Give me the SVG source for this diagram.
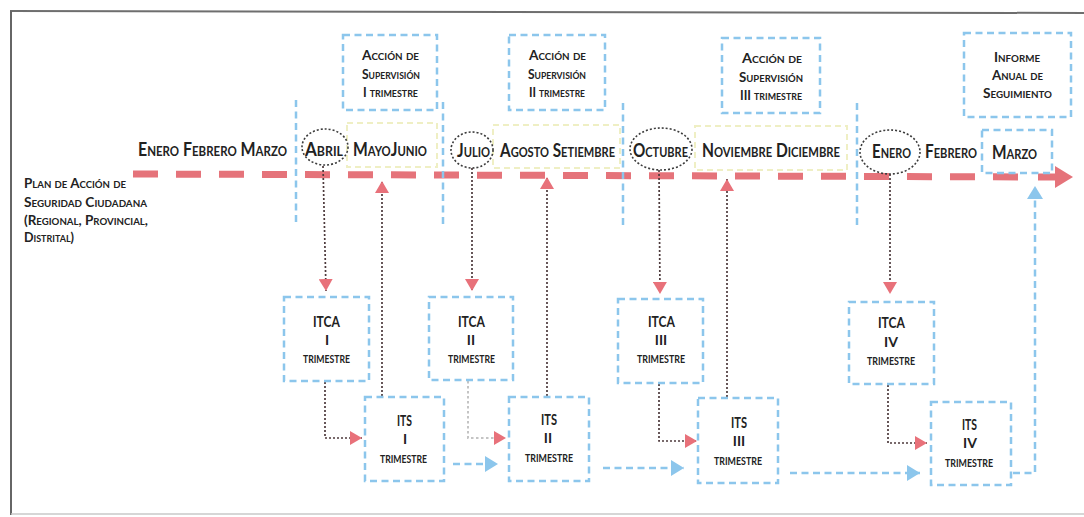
<svg xmlns="http://www.w3.org/2000/svg" width="1084" height="517" viewBox="0 0 1084 517">
<style>
.t{font-family:Lato,"Liberation Sans","DejaVu Sans",sans-serif;font-weight:bold;font-variant:small-caps;fill:#222}
.m{font-size:18px}
.s{font-size:14px}
.b{font-size:16px}
.r{font-size:14px}
.tr{font-size:16px}
.c{text-anchor:middle}
.bd{fill:#fff;stroke:#8cc6ec;stroke-width:2.5;stroke-dasharray:7 4.5}
.bl{fill:none;stroke:#8cc6ec;stroke-width:2.5;stroke-dasharray:7 4.5}
.yl{fill:none;stroke:#efefc4;stroke-width:2;stroke-dasharray:6 4}
.ov{fill:none;stroke:#3c3c3c;stroke-width:1.6;stroke-dasharray:2 2}
.dt{fill:none;stroke:#4d3a3c;stroke-width:1.7;stroke-dasharray:2 2}
.gd{fill:none;stroke:#c4c4c4;stroke-width:2;stroke-dasharray:2.5 2.5}
.bc{fill:none;stroke:#8cc6ec;stroke-width:2.5;stroke-dasharray:7 4.5}
</style>
<defs>
<marker id="ra" markerUnits="userSpaceOnUse" markerWidth="13" markerHeight="14" refX="12" refY="7" orient="auto"><path d="M0,0 L12,7 L0,14 z" fill="#e8717a"/></marker>
<marker id="ba" markerUnits="userSpaceOnUse" markerWidth="14" markerHeight="16" refX="13" refY="8" orient="auto"><path d="M0,0 L13,8 L0,16 z" fill="#8cc6ec"/></marker>
</defs>
<rect width="1084" height="517" fill="#fff"/>
<g id="frame" fill="none">
<path d="M10,11 L1084,13" stroke="#6e6e6e" stroke-width="2"/>
<path d="M11,11 L11,515" stroke="#666" stroke-width="2"/>
<path d="M11,514 L1084,514" stroke="#c8c8c8" stroke-width="1.5"/>
</g>
<g id="timeline">
<path d="M133,174 L1036,177" fill="none" stroke="#e5737a" stroke-width="7" stroke-dasharray="25 18"/>
<path d="M1038,177 L1058,177" fill="none" stroke="#e5737a" stroke-width="7"/>
<path d="M1055,166 L1073,177 L1055,188 z" fill="#e5737a"/>
</g>
<g id="brackets">
<line x1="296" y1="100" x2="296" y2="226" class="bl"/>
<line x1="443" y1="102" x2="443" y2="228" class="bl"/>
<line x1="623" y1="103" x2="623" y2="228" class="bl"/>
<line x1="857" y1="103" x2="857" y2="228" class="bl"/>
</g>
<g id="highlights">
<rect x="347" y="123" width="90" height="44" class="yl"/>
<rect x="493" y="125" width="127" height="43" class="yl"/>
<rect x="695" y="126" width="152" height="44" class="yl"/>
</g>
<g id="plan">
<text class="t s" x="24" y="188" textLength="102" lengthAdjust="spacingAndGlyphs">Plan de Acción de</text>
<text class="t s" x="24" y="207" textLength="123" lengthAdjust="spacingAndGlyphs">Seguridad Ciudadana</text>
<text class="t s" x="24" y="225" textLength="124" lengthAdjust="spacingAndGlyphs">(Regional, Provincial,</text>
<text class="t s" x="24" y="242" textLength="50" lengthAdjust="spacingAndGlyphs">Distrital)</text>
</g>
<g id="months">
<text class="t m" x="138" y="156" textLength="149" lengthAdjust="spacingAndGlyphs">Enero Febrero Marzo</text>
<g id="abril"><ellipse cx="325" cy="147" rx="23" ry="18" class="ov"/><text class="t m" x="305" y="156" textLength="38" lengthAdjust="spacingAndGlyphs">Abril</text></g>
<text class="t m" x="353" y="156" textLength="74" lengthAdjust="spacingAndGlyphs">MayoJunio</text>
<g id="julio"><ellipse cx="472" cy="150" rx="21" ry="18" class="ov"/><text class="t m" x="457" y="157" textLength="33" lengthAdjust="spacingAndGlyphs">Julio</text></g>
<text class="t m" x="500" y="157" textLength="115" lengthAdjust="spacingAndGlyphs">Agosto Setiembre</text>
<g id="octubre"><ellipse cx="661" cy="149" rx="31" ry="21" class="ov"/><text class="t m" x="633" y="157" textLength="55" lengthAdjust="spacingAndGlyphs">Octubre</text></g>
<text class="t m" x="702" y="157" textLength="138" lengthAdjust="spacingAndGlyphs">Noviembre Diciembre</text>
<g id="enero2"><ellipse cx="890" cy="152" rx="30" ry="22" class="ov"/><text class="t m" x="872" y="158" textLength="39" lengthAdjust="spacingAndGlyphs">Enero</text></g>
<text class="t m" x="925" y="158" textLength="52" lengthAdjust="spacingAndGlyphs">Febrero</text>
<g id="marzo2"><rect x="982" y="130" width="70" height="43" class="bd"/><text class="t m" x="992" y="159" textLength="45" lengthAdjust="spacingAndGlyphs">Marzo</text></g>
</g>
<g id="sup1">
<rect x="343" y="35" width="94" height="75" class="bd"/>
<text class="t s" x="362" y="60" textLength="57" lengthAdjust="spacingAndGlyphs">Acción de</text>
<text class="t s" x="362" y="79" textLength="58" lengthAdjust="spacingAndGlyphs">Supervisión</text>
<text class="t s" x="363" y="97" textLength="55" lengthAdjust="spacingAndGlyphs">I trimestre</text>
</g>
<g id="sup2">
<rect x="509" y="35" width="96" height="75" class="bd"/>
<text class="t s" x="529" y="60" textLength="57" lengthAdjust="spacingAndGlyphs">Acción de</text>
<text class="t s" x="528" y="79" textLength="58" lengthAdjust="spacingAndGlyphs">Supervisión</text>
<text class="t s" x="529" y="97" textLength="56" lengthAdjust="spacingAndGlyphs">II trimestre</text>
</g>
<g id="sup3">
<rect x="722" y="38" width="98" height="75" class="bd"/>
<text class="t s" x="742" y="63" textLength="60" lengthAdjust="spacingAndGlyphs">Acción de</text>
<text class="t s" x="739" y="82" textLength="64" lengthAdjust="spacingAndGlyphs">Supervisión</text>
<text class="t s" x="740" y="100" textLength="62" lengthAdjust="spacingAndGlyphs">III trimestre</text>
</g>
<g id="informe">
<rect x="964" y="33" width="107" height="84" class="bd"/>
<text class="t s" x="994" y="62" textLength="46" lengthAdjust="spacingAndGlyphs">Informe</text>
<text class="t s" x="992" y="80" textLength="51" lengthAdjust="spacingAndGlyphs">Anual de</text>
<text class="t s" x="983" y="98" textLength="69" lengthAdjust="spacingAndGlyphs">Seguimiento</text>
</g>
<g id="connectors">
<path d="M323,166 L326,291" class="dt" marker-end="url(#ra)"/>
<path d="M325,382 L325,438 L362,438" class="dt" marker-end="url(#ra)"/>
<path d="M382,396 L382,181" class="dt" marker-end="url(#ra)"/>
<path d="M472,168 L472,291" class="dt" marker-end="url(#ra)"/>
<path d="M468,381 L468,438 L506,438" class="gd" marker-end="url(#ra)"/>
<path d="M547,396 L547,177" class="dt" marker-end="url(#ra)"/>
<path d="M453,464 L498,464" class="bc" marker-end="url(#ba)"/>
<path d="M659,170 L660,294" class="dt" marker-end="url(#ra)"/>
<path d="M659,384 L659,441 L697,441" class="dt" marker-end="url(#ra)"/>
<path d="M727,397 L727,179" class="dt" marker-end="url(#ra)"/>
<path d="M603,468 L684,468" class="bc" marker-end="url(#ba)"/>
<path d="M890,174 L890,294" class="dt" marker-end="url(#ra)"/>
<path d="M888,385 L888,443 L927,443" class="dt" marker-end="url(#ra)"/>
<path d="M790,473 L920,473" class="bc" marker-end="url(#ba)"/>
<path d="M1013,473 L1035,473 L1035,186" class="bc" marker-end="url(#ba)"/>
</g>
<g id="itca1">
<rect x="284" y="297" width="85" height="84" class="bd"/>
<text class="t b" x="313" y="327" textLength="27" lengthAdjust="spacingAndGlyphs">ITCA</text>
<text class="t r c" x="327" y="345">I</text>
<text class="t tr" x="303" y="363" textLength="47" lengthAdjust="spacingAndGlyphs">trimestre</text>
</g>
<g id="its1">
<rect x="365" y="397" width="79" height="84" class="bd"/>
<text class="t b" x="397" y="426" textLength="15" lengthAdjust="spacingAndGlyphs">ITS</text>
<text class="t r c" x="405" y="444">I</text>
<text class="t tr" x="380" y="463" textLength="47" lengthAdjust="spacingAndGlyphs">trimestre</text>
</g>
<g id="itca2">
<rect x="429" y="297" width="84" height="83" class="bd"/>
<text class="t b" x="458" y="327" textLength="27" lengthAdjust="spacingAndGlyphs">ITCA</text>
<text class="t r c" x="471" y="345">II</text>
<text class="t tr" x="448" y="363" textLength="47" lengthAdjust="spacingAndGlyphs">trimestre</text>
</g>
<g id="its2">
<rect x="509" y="397" width="80" height="84" class="bd"/>
<text class="t b" x="541" y="425" textLength="16" lengthAdjust="spacingAndGlyphs">ITS</text>
<text class="t r c" x="548" y="443">II</text>
<text class="t tr" x="525" y="462" textLength="48" lengthAdjust="spacingAndGlyphs">trimestre</text>
</g>
<g id="itca3">
<rect x="618" y="299" width="85" height="84" class="bd"/>
<text class="t b" x="648" y="327" textLength="27" lengthAdjust="spacingAndGlyphs">ITCA</text>
<text class="t r c" x="661" y="345">III</text>
<text class="t tr" x="637" y="363" textLength="48" lengthAdjust="spacingAndGlyphs">trimestre</text>
</g>
<g id="its3">
<rect x="698" y="398" width="80" height="85" class="bd"/>
<text class="t b" x="731" y="428" textLength="16" lengthAdjust="spacingAndGlyphs">ITS</text>
<text class="t r c" x="739" y="446">III</text>
<text class="t tr" x="714" y="465" textLength="48" lengthAdjust="spacingAndGlyphs">trimestre</text>
</g>
<g id="itca4">
<rect x="849" y="302" width="85" height="82" class="bd"/>
<text class="t b" x="878" y="328" textLength="27" lengthAdjust="spacingAndGlyphs">ITCA</text>
<text class="t r c" x="891" y="347">IV</text>
<text class="t tr" x="867" y="365" textLength="48" lengthAdjust="spacingAndGlyphs">trimestre</text>
</g>
<g id="its4">
<rect x="931" y="402" width="80" height="83" class="bd"/>
<text class="t b" x="962" y="430" textLength="15" lengthAdjust="spacingAndGlyphs">ITS</text>
<text class="t r c" x="970" y="448">IV</text>
<text class="t tr" x="945" y="467" textLength="48" lengthAdjust="spacingAndGlyphs">trimestre</text>
</g>
</svg>
